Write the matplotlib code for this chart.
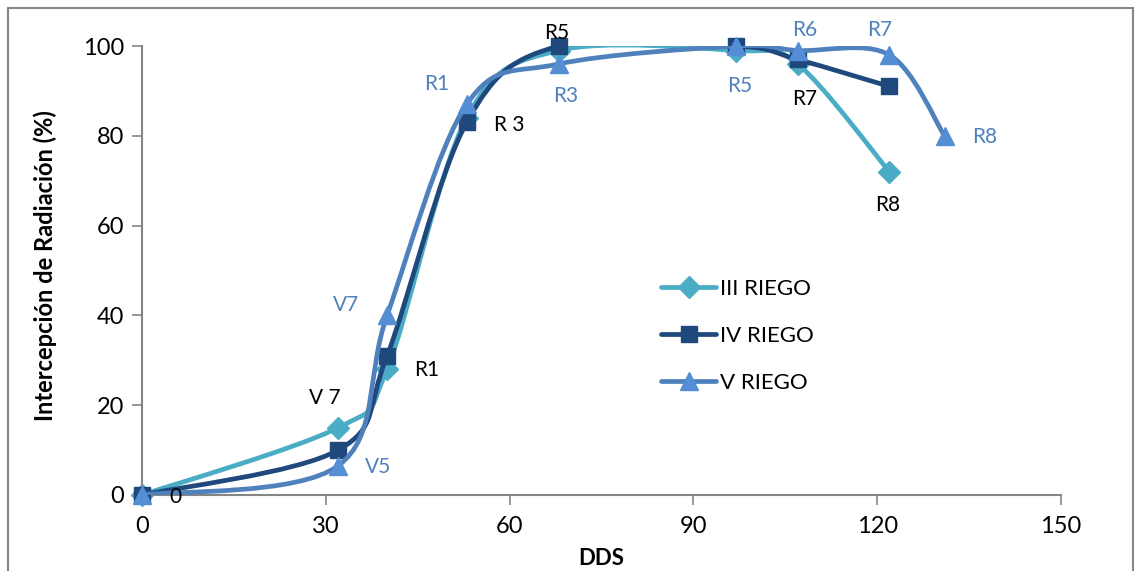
import matplotlib
matplotlib.use("Agg")
import matplotlib.pyplot as plt
from matplotlib.path import Path
from matplotlib.patches import PathPatch, Rectangle
from matplotlib.lines import Line2D
import numpy as np

plt.rcParams['font.family'] = ['Lato', 'DejaVu Sans']

# days after sowing (DDS) and radiation interception (%) per irrigation
dds_iii = [0, 32, 40, 53, 68, 97, 107, 122]
int_iii = [0, 15, 28, 84, 99, 99, 96, 72]

dds_iv = [0, 32, 40, 53, 68, 97, 107, 122]
int_iv = [0, 10, 31, 83, 100, 100, 97, 91]

dds_v = [0, 32, 40, 53, 68, 97, 107, 122, 131]
int_v = [0, 6.5, 40, 87, 96, 100, 99, 98, 80]

series_names = ['III RIEGO', 'IV RIEGO', 'V RIEGO']
line_colors = ['#4BACC6', '#1F497D', '#4F81BD']
marker_colors = ['#4BACC6', '#1F497D', '#558ED5']
markers = ['D', 's', '^']
marker_sizes = [11, 12, 13]

# phenological stage labels: (text, x, y, colour)
stage_labels = [
    ('0', 5.4, -0.4, 'black'),
    ('V 7', 29.9, 21.6, 'black'),
    ('V7', 33.3, 42.3, '#4F81BD'),
    ('V5', 38.5, 6.2, '#4F81BD'),
    ('R1', 46.5, 27.8, 'black'),
    ('R1', 48.1, 91.5, '#4F81BD'),
    ('R 3', 59.9, 82.4, 'black'),
    ('R5', 67.7, 102.9, 'black'),
    ('R3', 69.2, 88.9, '#4F81BD'),
    ('R5', 97.6, 91.1, '#4F81BD'),
    ('R6', 108.2, 103.6, '#4F81BD'),
    ('R7', 108.2, 88.2, 'black'),
    ('R7', 120.4, 103.6, '#4F81BD'),
    ('R8', 137.5, 79.7, '#4F81BD'),
    ('R8', 121.7, 64.6, 'black'),
]


def smooth_path(xs, ys):
    # cubic bezier through every point, tangents like a Catmull-Rom spline
    pts = np.column_stack([xs, ys]).astype(float)
    n = len(pts)
    verts = [pts[0]]
    codes = [Path.MOVETO]
    for i in range(n - 1):
        p0 = pts[max(i - 1, 0)]
        p1 = pts[i]
        p2 = pts[i + 1]
        p3 = pts[min(i + 2, n - 1)]
        c1 = p1 + (p2 - p0) / 6.0
        c2 = p2 - (p3 - p1) / 6.0
        verts += [c1, c2, p2]
        codes += [Path.CURVE4] * 3
    return Path(verts, codes)


fig = plt.figure(figsize=(11.35, 5.71), dpi=100)
ax = fig.add_axes([0.1251, 0.1331, 0.8097, 0.7863])

all_x = [dds_iii, dds_iv, dds_v]
all_y = [int_iii, int_iv, int_v]
handles = []
for k in range(3):
    patch = PathPatch(smooth_path(all_x[k], all_y[k]), fill=False,
                      edgecolor=line_colors[k], lw=3.4, capstyle='round',
                      joinstyle='round', zorder=2 + k)
    ax.add_patch(patch)
    ax.plot(all_x[k], all_y[k], linestyle='none', marker=markers[k],
            markersize=marker_sizes[k], color=marker_colors[k],
            markeredgecolor=marker_colors[k], zorder=2.5 + k, clip_on=False)
    handles.append(Line2D([], [], color=line_colors[k], lw=3.4,
                          marker=markers[k], markersize=marker_sizes[k],
                          markerfacecolor=marker_colors[k],
                          markeredgecolor=marker_colors[k],
                          solid_capstyle='round'))

for text, x, y, c in stage_labels:
    ax.text(x, y, text, color=c, fontsize=15, ha='center', va='center',
            zorder=10)

ax.set_xlim(0, 150)
ax.set_ylim(0, 100)
ax.set_xticks([0, 30, 60, 90, 120, 150])
ax.set_yticks([0, 20, 40, 60, 80, 100])
ax.tick_params(axis='both', labelsize=17, length=7, width=1.2,
               color='#868686', direction='out')
ax.tick_params(axis='x', pad=8)
ax.tick_params(axis='y', pad=6)
for side in ['top', 'right']:
    ax.spines[side].set_visible(False)
for side in ['left', 'bottom']:
    ax.spines[side].set_color('#868686')
    ax.spines[side].set_linewidth(1.5)

ax.set_xlabel('DDS', fontsize=16, fontweight='bold')
ax.xaxis.set_label_coords(0.5, -0.118)
ax.set_ylabel('Intercepción de Radiación (%)', fontsize=17,
              fontweight='bold')
ax.yaxis.set_label_coords(-0.0925, 0.512)

ax.legend(handles, series_names, loc='upper left', frameon=False,
          fontsize=16, handlelength=2.48, handletextpad=0.18,
          labelspacing=1.22, bbox_to_anchor=(0.543, 0.526))

fig.patches.append(Rectangle((8 / 1135, -0.02), 1125 / 1135, 1.02 - 8 / 571,
                             transform=fig.transFigure, fill=False,
                             edgecolor='#868686', lw=1.5))

fig.savefig('out.png', dpi=100)
